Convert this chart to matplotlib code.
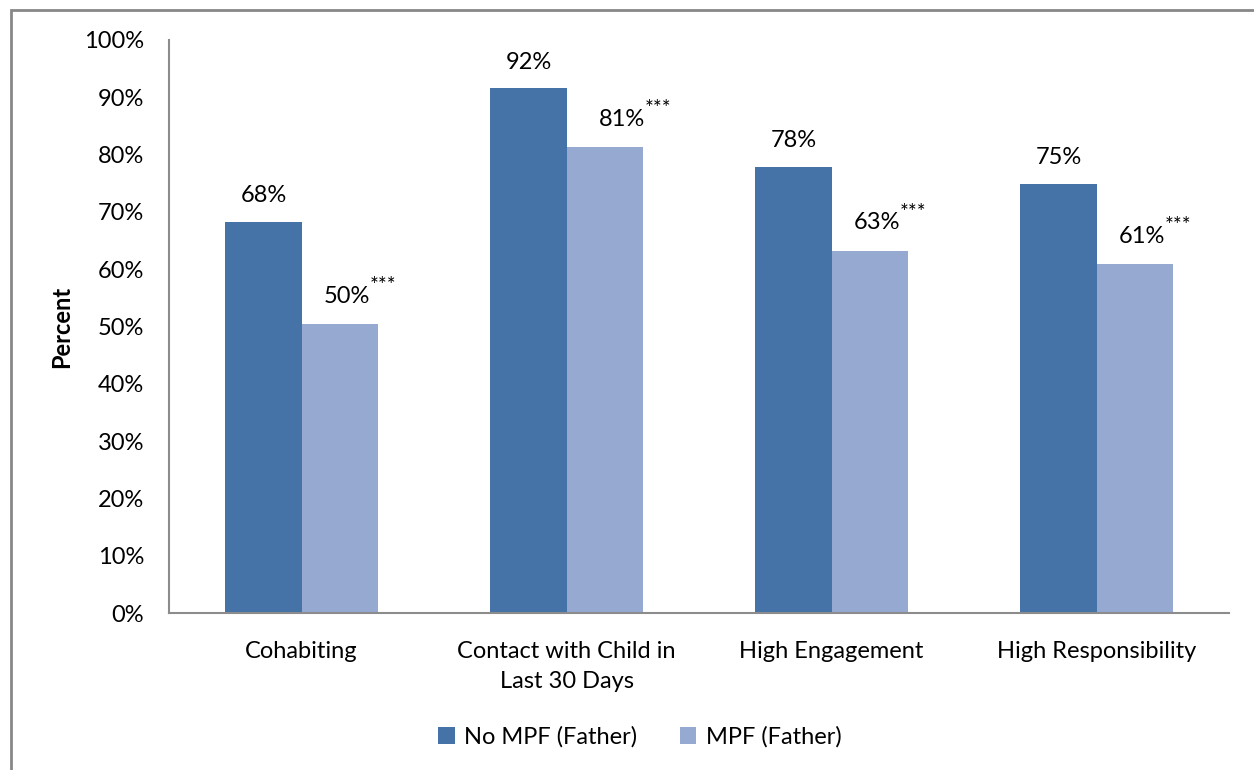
import matplotlib
matplotlib.use("Agg")
import matplotlib.pyplot as plt
import matplotlib.patches as pat
import numpy as np

plt.rcParams['font.family'] = ['Lato', 'DejaVu Sans']

categories = ["Cohabiting", "Contact with Child in\nLast 30 Days",
              "High Engagement", "High Responsibility"]
no_mpf = [68.3, 91.6, 77.9, 74.9]
mpf = [50.4, 81.3, 63.2, 60.9]
no_mpf_labels = ["68%", "92%", "78%", "75%"]
mpf_labels = ["50%", "81%", "63%", "61%"]
series_names = ["No MPF (Father)", "MPF (Father)"]
y_ticks = [0, 10, 20, 30, 40, 50, 60, 70, 80, 90, 100]

dark = "#4572A7"
light = "#95A9D1"
grey = "#8c8c8c"
fs = 17
px = 72 / 100  # pixels -> points

fig = plt.figure(figsize=(12.54, 7.70), dpi=100)
ax = fig.add_axes([169/1254, 1 - 613/770, (1229 - 169)/1254, (613 - 40)/770])

# outer chart border (runs off the right/bottom edge in the original)
fig.patches.append(pat.Rectangle((11/1254, -0.1), 2, (760/770) + 0.1,
                                 transform=fig.transFigure, fill=False,
                                 edgecolor="#878787", linewidth=2))

x = np.arange(len(categories))
w = 0.287
b1 = ax.bar(x - w/2, no_mpf, w, color=dark, label=series_names[0])
b2 = ax.bar(x + w/2, mpf, w, color=light, label=series_names[1])

for xi, v, t in zip(x, no_mpf, no_mpf_labels):
    ax.annotate(t, (xi - w/2, v), xytext=(0, 26 * px), textcoords="offset points",
                ha="center", va="center", fontsize=fs, color="black")

light_dx = [7, 17, 7, 7]
for xi, v, t, dx in zip(x, mpf, mpf_labels, light_dx):
    ax.annotate(t, (xi + w/2, v), xytext=(dx * px, 28 * px), textcoords="offset points",
                ha="center", va="center", fontsize=fs, color="black")
    ax.annotate("***", (xi + w/2, v), xytext=((dx + 23) * px, 38 * px),
                textcoords="offset points", ha="left", va="center",
                fontsize=15, color="black")

ax.set_xlim(-0.5, 3.5)
ax.set_ylim(0, 100)
ax.set_yticks(y_ticks)
ax.set_yticklabels([f"{t}%" for t in y_ticks], fontsize=fs)
ax.set_xticks(x)
ax.set_xticklabels(categories, fontsize=fs, linespacing=1.55, va="top")
ax.tick_params(axis="both", length=0)
ax.tick_params(axis="y", pad=18)
ax.tick_params(axis="x", pad=20)
ax.set_ylabel("Percent", fontsize=fs, fontweight="bold", labelpad=8)

for s in ["top", "right"]:
    ax.spines[s].set_visible(False)
for s in ["left", "bottom"]:
    ax.spines[s].set_color(grey)
    ax.spines[s].set_linewidth(1.5)

fig.legend(handles=[b1, b2], labels=series_names, loc="center",
           bbox_to_anchor=(640/1254, 1 - 737/770), ncol=2, frameon=False,
           fontsize=fs, handlelength=0.7, handleheight=0.7, handletextpad=0.4,
           columnspacing=1.8)

fig.savefig("out.png", dpi=100)
